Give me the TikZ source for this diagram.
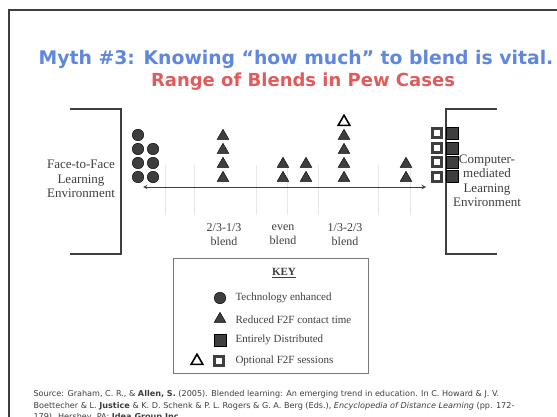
\documentclass[tikz,border=0pt]{standalone}
\usepackage{fontspec}
\setmainfont{Liberation Serif}
\newfontfamily\slidefont{DejaVu Sans}
\usetikzlibrary{shapes.geometric}
\definecolor{mythblue}{RGB}{95,135,222}
\definecolor{mythred}{RGB}{224,92,92}
\definecolor{ink}{RGB}{62,62,62}
\tikzset{
    tech/.style={shape=circle, draw=black, fill=ink, minimum size=11.5pt, inner sep=0pt},
    redtri/.style={shape=regular polygon, regular polygon sides=3, draw=black, fill=ink, minimum size=13.5pt, inner sep=0pt},
    opttri/.style={redtri, fill=white, line width=1.6pt},
    dist/.style={shape=rectangle, draw=black, fill=ink, minimum size=12pt, inner sep=0pt},
    optsq/.style={shape=rectangle, draw=ink, fill=white, line width=3.2pt, minimum size=9pt, inner sep=0pt},
    envtext/.style={align=center, text=ink, font=\fontsize{13}{14.5}\selectfont},
    blendtext/.style={align=center, text=ink, font=\fontsize{12}{14}\selectfont},
    keytext/.style={anchor=west, text=ink, font=\fontsize{11}{12}\selectfont},
    bracket/.style={line width=1.2pt, draw=ink}
}
\begin{document}
\begin{tikzpicture}[x=1pt,y=-1pt]
                \useasboundingbox (0,0) rectangle (557,417);
                \clip (0,0) rectangle (557,417);
                \draw[line width=1.5pt, ink] (557,10) -- (9,10) -- (9,417);

                \node[text=mythblue, font=\slidefont\bfseries\fontsize{18.8}{20}\selectfont] (myth) at (296,59) {Myth \#3: Knowing “how much” to blend is vital.};
                \node[text=mythred, font=\slidefont\bfseries\fontsize{18}{20}\selectfont] (range) at (303,82) {Range of Blends in Pew Cases};

                % brackets and environments
                \draw[bracket] (70,109) -- (121,109) -- (121,254) -- (70,254);
                \draw[bracket] (497,109) -- (446,109) -- (446,254) -- (497,254);
                \node[envtext] (f2f) at (81,179) {Face-to-Face\\Learning\\Environment};

                % faint grid
                \foreach \gx in {165,194,256,287,318,378,410}
                    \draw[gray!18] (\gx,165) -- (\gx,215);

                \coordinate (west) at (143,187);
                \coordinate (east) at (426,187);
                \draw[<->, >=stealth, line width=1pt, ink] (west) -- (east);

                \node[tech] (c1) at (138,135) {};
                \node[tech] (c2) at (138,149) {};
                \node[tech] (c3) at (138,163) {};
                \node[tech] (c4) at (138,177) {};
                \node[tech] (c5) at (153,149) {};
                \node[tech] (c6) at (153,163) {};
                \node[tech] (c7) at (153,177) {};

                \node[redtri] (a1) at (223,136) {};
                \node[redtri] (a2) at (223,150) {};
                \node[redtri] (a3) at (223,164) {};
                \node[redtri] (a4) at (223,178) {};

                \node[redtri] (b1) at (283,164) {};
                \node[redtri] (b2) at (283,178) {};
                \node[redtri] (b3) at (306,164) {};
                \node[redtri] (b4) at (306,178) {};

                \node[opttri] (d0) at (344,122) {};
                \node[redtri] (d1) at (344,136) {};
                \node[redtri] (d2) at (344,150) {};
                \node[redtri] (d3) at (344,164) {};
                \node[redtri] (d4) at (344,178) {};

                \node[redtri] (e1) at (406,164) {};
                \node[redtri] (e2) at (406,178) {};

                \node[optsq] (s1) at (437,133) {};
                \node[optsq] (s2) at (437,148) {};
                \node[optsq] (s3) at (437,162) {};
                \node[optsq] (s4) at (437,177) {};
                \node[dist] (t1) at (452,133) {};
                \node[dist] (t2) at (452,148) {};
                \node[dist] (t3) at (452,162) {};
                \node[dist] (t4) at (452,176) {};

                \node[envtext] (cme) at (487,181) {Computer-\\mediated\\Learning\\Environment};

                \node[blendtext] (twothirds) at (224,235) {2/3-1/3\\blend};
                \node[blendtext] (even) at (283,235) {even\\blend};
                \node[blendtext] (onethird) at (345,235) {1/3-2/3\\blend};

                % key
                \node[draw=ink!70, minimum width=195pt, minimum height=115pt] (key) at (270.5,315.5) {};
                \node[text=ink, font=\fontsize{11}{12}\selectfont\bfseries] (keyhead) at (284,273) {\underline{KEY}};
                \node[tech] (k1) at (220,298) {};
                \node[keytext] (k1t) at (232,298) {Technology enhanced};
                \node[redtri] (k2) at (220,319) {};
                \node[keytext] (k2t) at (232,320) {Reduced F2F contact time};
                \node[dist] (k3) at (220,340) {};
                \node[keytext] (k3t) at (232,340) {Entirely Distributed};
                \node[opttri] (k4) at (197,361) {};
                \node[optsq] (k5) at (219,361) {};
                \node[keytext] (k4t) at (232,361) {Optional F2F sessions};

                \node[anchor=north west, align=left, text=ink, font=\slidefont\fontsize{8.1}{11.5}\selectfont] (source) at (30,387)
                    {Source: Graham, C. R., \& \textbf{Allen, S.} (2005). Blended learning: An emerging trend in education. In C. Howard \& J. V.\\
                     Boettecher \& L. \textbf{Justice} \& K. D. Schenk \& P. L. Rogers \& G. A. Berg (Eds.), \textit{Encyclopedia of Distance Learning} (pp. 172-\\
                     179). Hershey, PA: \textbf{Idea Group Inc.}};
            \end{tikzpicture}
\end{document}
